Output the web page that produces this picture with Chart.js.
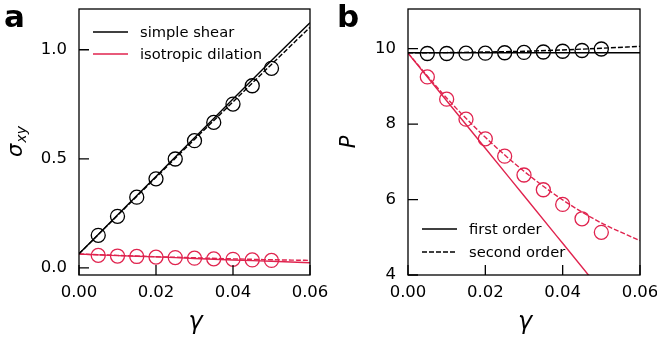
<!DOCTYPE html>
<html>
<head>
<meta charset="utf-8">
<script src="https://cdn.jsdelivr.net/npm/chart.js@4"></script>
<style>
  body { margin: 0; background: #fff; }
  canvas { position: absolute; top: 0; }
  #chartA { left: 0; }
  #chartB { left: 330px; }
</style>
</head>
<body>
<canvas id="chartA" width="330" height="344"></canvas>
<canvas id="chartB" width="327" height="344"></canvas>
<script>
// measured points (circles)
const gammaData = [0.005, 0.010, 0.015, 0.020, 0.025, 0.030, 0.035, 0.040, 0.045, 0.050];
const shearSigma = [0.149, 0.236, 0.324, 0.408, 0.499, 0.583, 0.667, 0.751, 0.835, 0.915];
const dilationSigma = [0.057, 0.054, 0.052, 0.049, 0.047, 0.044, 0.041, 0.039, 0.036, 0.034];
const shearP = [9.87, 9.87, 9.88, 9.88, 9.89, 9.90, 9.91, 9.93, 9.95, 9.99];
const dilationP = [9.25, 8.66, 8.13, 7.61, 7.15, 6.65, 6.26, 5.87, 5.49, 5.13];

// first / second order predictions
const gammaFit = [0, 0.01, 0.02, 0.03, 0.04, 0.05, 0.06];
const shearSigma1 = [0.064, 0.242, 0.419, 0.596, 0.774, 0.951, 1.124];
const shearSigma2 = [0.064, 0.240, 0.415, 0.589, 0.761, 0.933, 1.103];
const dilSigma1 = [0.063, 0.056, 0.050, 0.043, 0.036, 0.030, 0.023];
const dilSigma2 = [0.063, 0.057, 0.051, 0.046, 0.041, 0.037, 0.034];
const shearP1 = [9.89, 9.89, 9.89, 9.89, 9.89, 9.89, 9.89];
const shearP2 = [9.89, 9.895, 9.91, 9.93, 9.965, 10.01, 10.06];
const dilP1 = [9.88, 8.62, 7.36, 6.10, 4.84, 3.58, 2.32];
const dilP2 = [9.88, 8.69, 7.65, 6.75, 5.99, 5.38, 4.91];

const xTicks = [0, 0.02, 0.04, 0.06];
const yTicksA = [0, 0.5, 1.0];
const yTicksB = [4, 6, 8, 10];

const RED = '#e0234e';
const BLACK = '#000000';
const FONT = 'DejaVu Sans';

function pts(xs, ys) {
    return xs.map((x, i) => ({x: x, y: ys[i]}));
}

function lineSet(xs, ys, color, dashed) {
    return {
        data: pts(xs, ys),
        showLine: true,
        borderColor: color,
        borderWidth: 1.4,
        borderDash: dashed ? [5, 2] : [],
        pointRadius: 0,
        cubicInterpolationMode: 'monotone',
        fill: false
    };
}

function circleSet(xs, ys, color) {
    return {
        data: pts(xs, ys),
        showLine: false,
        borderColor: color,
        backgroundColor: 'rgba(0,0,0,0)',
        borderWidth: 1.3,
        pointRadius: 7,
        pointHoverRadius: 7
    };
}

// frame, inward ticks, titles, legend
const decor = {
    id: 'decor',
    afterDraw(chart, args, opts) {
        const ctx = chart.ctx;
        const a = chart.chartArea;
        const xs = chart.scales.x, ys = chart.scales.y;
        ctx.save();
        ctx.strokeStyle = BLACK;
        ctx.lineWidth = 1.3;
        ctx.setLineDash([]);
        ctx.strokeRect(a.left, a.top, a.right - a.left, a.bottom - a.top);
        ctx.beginPath();
        xs.ticks.forEach(t => {
            const px = xs.getPixelForValue(t.value);
            ctx.moveTo(px, a.bottom);
            ctx.lineTo(px, a.bottom - 10);
        });
        ys.ticks.forEach(t => {
            const py = ys.getPixelForValue(t.value);
            ctx.moveTo(a.left, py);
            ctx.lineTo(a.left + 10, py);
        });
        ctx.stroke();

        ctx.fillStyle = BLACK;
        // panel letter
        ctx.font = 'bold 31px ' + FONT;
        ctx.textAlign = 'left';
        ctx.textBaseline = 'alphabetic';
        ctx.fillText(opts.letter, opts.letterX, 27);

        // x title
        ctx.font = 'italic 24px ' + FONT;
        ctx.textAlign = 'center';
        ctx.fillText('γ', (a.left + a.right) / 2 + 1, 329);

        // y title
        ctx.save();
        ctx.translate(opts.yTitleX, (a.top + a.bottom) / 2);
        ctx.rotate(-Math.PI / 2);
        ctx.textAlign = 'left';
        ctx.font = 'italic 21px ' + FONT;
        const mainW = ctx.measureText(opts.yTitle).width;
        let subW = 0;
        if (opts.ySub) {
            ctx.font = 'italic 14px ' + FONT;
            subW = ctx.measureText(opts.ySub).width;
        }
        const x0 = -(mainW + subW) / 2;
        ctx.font = 'italic 21px ' + FONT;
        ctx.fillText(opts.yTitle, x0, 0);
        if (opts.ySub) {
            ctx.font = 'italic 14px ' + FONT;
            ctx.fillText(opts.ySub, x0 + mainW + 1, 3.5);
        }
        ctx.restore();

        // legend
        ctx.font = '14.7px ' + FONT;
        ctx.textAlign = 'left';
        ctx.textBaseline = 'middle';
        opts.legend.forEach(item => {
            ctx.beginPath();
            ctx.strokeStyle = item.color;
            ctx.lineWidth = 1.4;
            ctx.setLineDash(item.dashed ? [5, 2] : []);
            ctx.moveTo(a.left + 14, item.y);
            ctx.lineTo(a.left + 49, item.y);
            ctx.stroke();
            ctx.fillStyle = BLACK;
            ctx.fillText(item.text, a.left + 61, item.y + 1);
        });
        ctx.restore();
    }
};

function makeChart(id, datasets, yMin, yMax, yTicks, yDigits, yWidth, padRight, decorOpts) {
    return new Chart(document.getElementById(id), {
        type: 'scatter',
        data: {datasets: datasets},
        options: {
            responsive: false,
            animation: false,
            events: [],
            layout: {padding: {top: 9, right: padRight, left: 0, bottom: 0}},
            plugins: {
                legend: {display: false},
                tooltip: {enabled: false},
                decor: decorOpts
            },
            scales: {
                x: {
                    type: 'linear',
                    min: 0,
                    max: 0.06,
                    afterBuildTicks: s => { s.ticks = xTicks.map(v => ({value: v})); },
                    afterFit: s => {
                        s.height = 69;
                        s.paddingLeft = 0;
                        s.paddingRight = 0;
                    },
                    grid: {display: false, drawTicks: false, tickLength: 0},
                    border: {display: false},
                    ticks: {
                        padding: 8,
                        color: BLACK,
                        maxRotation: 0,
                        font: {family: FONT, size: 16.5},
                        callback: v => v.toFixed(2)
                    }
                },
                y: {
                    type: 'linear',
                    min: yMin,
                    max: yMax,
                    afterBuildTicks: s => { s.ticks = yTicks.map(v => ({value: v})); },
                    afterFit: s => {
                        s.width = yWidth;
                        s.paddingTop = 0;
                        s.paddingBottom = 0;
                    },
                    grid: {display: false, drawTicks: false, tickLength: 0},
                    border: {display: false},
                    ticks: {
                        padding: 12,
                        color: BLACK,
                        font: {family: FONT, size: 16.5},
                        callback: v => v.toFixed(yDigits)
                    }
                }
            }
        },
        plugins: [decor]
    });
}

makeChart('chartA', [
    lineSet(gammaFit, shearSigma1, BLACK, false),
    lineSet(gammaFit, shearSigma2, BLACK, true),
    lineSet(gammaFit, dilSigma1, RED, false),
    lineSet(gammaFit, dilSigma2, RED, true),
    circleSet(gammaData, shearSigma, BLACK),
    circleSet(gammaData, dilationSigma, RED)
], -0.033, 1.187, yTicksA, 1, 79, 20, {
    letter: 'a', letterX: 4, yTitle: 'σ', ySub: 'xy', yTitleX: 22,
    legend: [
        {text: 'simple shear', color: BLACK, dashed: false, y: 32},
        {text: 'isotropic dilation', color: RED, dashed: false, y: 54}
    ]
});

makeChart('chartB', [
    lineSet(gammaFit, shearP1, BLACK, false),
    lineSet(gammaFit, shearP2, BLACK, true),
    lineSet(gammaFit, dilP1, RED, false),
    lineSet(gammaFit, dilP2, RED, true),
    circleSet(gammaData, shearP, BLACK),
    circleSet(gammaData, dilationP, RED)
], 4, 11.05, yTicksB, 0, 78, 17, {
    letter: 'b', letterX: 7, yTitle: 'P', ySub: '', yTitleX: 25,
    legend: [
        {text: 'first order', color: BLACK, dashed: false, y: 229},
        {text: 'second order', color: BLACK, dashed: true, y: 252}
    ]
});
</script>
</body>
</html>
